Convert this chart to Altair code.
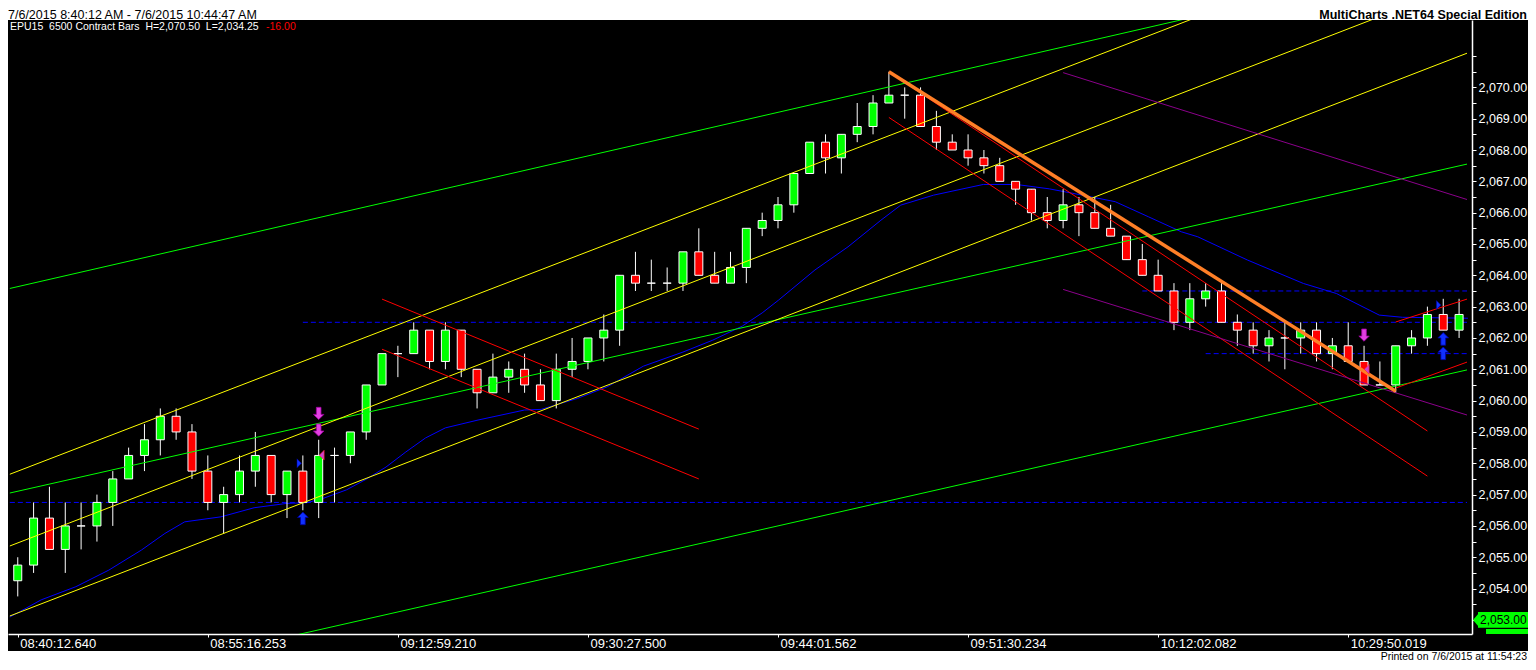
import altair as alt
import pandas as pd

# ---------------- data ----------------
opens = [2054.25, 2054.75, 2056.25, 2055.25, 2056.0, 2056.0, 2056.75, 2057.5, 2058.25, 2058.75,
         2059.5, 2059.0, 2057.75, 2056.75, 2057.0, 2057.75, 2058.25, 2057.0, 2057.75, 2056.75,
         2058.25, 2058.25, 2059.0, 2060.5, 2061.5, 2061.5, 2062.25, 2061.25, 2062.25, 2061.0,
         2060.25, 2060.75, 2061.0, 2060.5, 2060.0, 2061.0, 2061.25, 2062.0, 2062.25, 2064.0,
         2063.75, 2063.75, 2063.75, 2064.75, 2064.0, 2063.75, 2064.25, 2065.5, 2065.75, 2066.25,
         2067.25, 2068.25, 2067.75, 2068.5, 2068.75, 2069.5, 2069.75, 2069.75, 2068.75, 2068.25,
         2068.0, 2067.75, 2067.5, 2067.0, 2066.75, 2066.0, 2065.75, 2066.25, 2066.0, 2065.5,
         2065.25, 2064.5, 2064.0, 2063.5, 2062.5, 2063.25, 2063.5, 2062.5, 2062.25, 2061.75,
         2062.0, 2062.0, 2062.25, 2061.5, 2061.75, 2061.25, 2060.5, 2060.5, 2061.75, 2062.0,
         2062.75, 2062.25]
highs = [2055.0, 2056.75, 2057.25, 2056.75, 2056.75, 2057.0, 2057.75, 2058.5, 2059.25, 2059.75,
         2059.75, 2059.25, 2058.25, 2057.25, 2058.25, 2059.0, 2058.25, 2057.75, 2058.25, 2058.75,
         2058.5, 2059.0, 2060.5, 2061.5, 2061.75, 2062.5, 2062.25, 2062.5, 2062.25, 2061.0,
         2061.5, 2061.25, 2061.5, 2061.0, 2061.5, 2062.0, 2062.0, 2062.75, 2064.0, 2064.75,
         2064.5, 2064.25, 2064.75, 2065.5, 2064.75, 2064.75, 2065.5, 2066.0, 2066.5, 2067.25,
         2068.25, 2068.5, 2068.5, 2069.5, 2069.75, 2070.5, 2070.0, 2070.0, 2069.25, 2068.5,
         2068.5, 2068.0, 2067.75, 2067.0, 2066.75, 2066.5, 2066.75, 2066.5, 2066.5, 2066.25,
         2065.25, 2065.0, 2064.5, 2063.75, 2063.75, 2063.75, 2063.75, 2062.75, 2062.5, 2062.25,
         2062.5, 2062.5, 2062.5, 2062.0, 2062.5, 2061.75, 2061.25, 2061.75, 2062.25, 2063.0,
         2063.25, 2063.25]
lows = [2053.75, 2054.5, 2055.25, 2054.5, 2055.25, 2055.5, 2056.0, 2057.5, 2057.75, 2058.25,
        2058.75, 2057.5, 2056.5, 2055.75, 2056.75, 2057.25, 2056.75, 2056.25, 2056.5, 2056.25,
        2056.75, 2058.0, 2058.75, 2060.5, 2060.75, 2061.5, 2061.0, 2061.0, 2060.75, 2059.75,
        2060.25, 2060.25, 2060.25, 2060.0, 2059.75, 2060.75, 2061.0, 2061.25, 2061.75, 2063.5,
        2063.5, 2063.5, 2063.5, 2064.0, 2063.75, 2063.75, 2063.75, 2065.25, 2065.5, 2066.0,
        2067.25, 2067.25, 2067.25, 2068.25, 2068.5, 2069.5, 2069.0, 2068.75, 2068.0, 2068.0,
        2067.5, 2067.25, 2067.0, 2066.25, 2065.75, 2065.5, 2065.5, 2065.25, 2065.5, 2065.25,
        2064.5, 2064.0, 2063.5, 2062.25, 2062.25, 2063.0, 2062.5, 2061.75, 2061.5, 2061.25,
        2061.0, 2061.5, 2061.25, 2061.0, 2061.25, 2060.5, 2060.5, 2060.25, 2061.5, 2061.75,
        2062.25, 2062.0]
closes = [2054.75, 2056.25, 2055.25, 2056.0, 2056.0, 2056.75, 2057.5, 2058.25, 2058.75, 2059.5,
          2059.0, 2057.75, 2056.75, 2057.0, 2057.75, 2058.25, 2057.0, 2057.75, 2056.75, 2058.25,
          2058.25, 2059.0, 2060.5, 2061.5, 2061.5, 2062.25, 2061.25, 2062.25, 2061.0, 2060.25,
          2060.75, 2061.0, 2060.5, 2060.0, 2061.0, 2061.25, 2062.0, 2062.25, 2064.0, 2063.75,
          2063.75, 2063.75, 2064.75, 2064.0, 2063.75, 2064.25, 2065.5, 2065.75, 2066.25, 2067.25,
          2068.25, 2067.75, 2068.5, 2068.75, 2069.5, 2069.75, 2069.75, 2068.75, 2068.25, 2068.0,
          2067.75, 2067.5, 2067.0, 2066.75, 2066.0, 2065.75, 2066.25, 2066.0, 2065.5, 2065.25,
          2064.5, 2064.0, 2063.5, 2062.5, 2063.25, 2063.5, 2062.5, 2062.25, 2061.75, 2062.0,
          2062.0, 2062.25, 2061.5, 2061.75, 2061.25, 2060.5, 2060.5, 2061.75, 2062.0, 2062.75,
          2062.25, 2062.75]

x_tick_bars = [0, 12, 24, 36, 48, 60, 72, 84]
x_tick_labels = ["08:40:12.640", "08:55:16.253", "09:12:59.210", "09:30:27.500",
                 "09:44:01.562", "09:51:30.234", "10:12:02.082", "10:29:50.019"]
y_ticks = [2053.0, 2053.5, 2054.0, 2054.5, 2055.0, 2055.5, 2056.0, 2056.5, 2057.0, 2057.5,
           2058.0, 2058.5, 2059.0, 2059.5, 2060.0, 2060.5, 2061.0, 2061.5, 2062.0, 2062.5,
           2063.0, 2063.5, 2064.0, 2064.5, 2065.0, 2065.5, 2066.0, 2066.5, 2067.0, 2067.5,
           2068.0, 2068.5, 2069.0, 2069.5, 2070.0, 2070.5, 2071.0]

# moving average (blue), read at points along the curve
ma_x = [-0.5, 1.48, 3.67, 5.75, 7.81, 9.29, 10.54, 12.83, 14.92, 17.0, 18.25, 19.29, 20.75, 22.0,
        23.25, 24.5, 25.75, 27.0, 29.06, 32.0, 33.04, 35.33, 37.21, 39.5, 42.0, 43.88, 45.75, 47.0,
        48.04, 50.33, 52.42, 54.5, 55.75, 57.83, 60.96, 63.04, 65.13, 67.21, 69.29, 71.38, 73.46,
        74.5, 77.63, 81.17, 83.25, 85.96, 87.42, 91.56]
ma_y = [2053.09, 2053.64, 2054.06, 2054.59, 2055.23, 2055.76, 2056.13, 2056.29, 2056.58, 2056.72,
        2056.74, 2056.88, 2057.15, 2057.49, 2057.88, 2058.36, 2058.81, 2059.13, 2059.38, 2059.70,
        2059.72, 2060.07, 2060.44, 2061.10, 2061.55, 2061.93, 2062.38, 2062.80, 2063.21, 2064.17,
        2064.91, 2065.76, 2066.24, 2066.56, 2066.90, 2066.90, 2066.76, 2066.56, 2066.35, 2065.87,
        2065.39, 2065.23, 2064.49, 2063.74, 2063.42, 2062.73, 2062.66, 2062.63]

# trend lines: start/end (bar index, price)
tl_x1 = [-0.5, -0.5, -0.5, -0.5, -0.5, -0.5, 23, 23, 55, 55, 87, 87, 66, 66]
tl_p1 = [2063.58, 2057.05, 2050.45, 2057.65, 2055.36, 2053.125, 2063.24, 2061.64,
         2070.49, 2069.04, 2062.51, 2060.40, 2070.47, 2063.55]
tl_x2 = [73.94, 91.5, 91.5, 74.29, 85.75, 91.5, 43, 43, 89, 89, 91.5, 91.5, 91.5, 91.5]
tl_p2 = [2072.21, 2067.55, 2060.98, 2072.21, 2072.21, 2071.09, 2059.09, 2057.50,
         2059.03, 2057.59, 2063.24, 2061.23, 2066.42, 2059.54]
tl_col = ["#00ff00", "#00ff00", "#00ff00", "#ffff00", "#ffff00", "#ffff00",
          "#ff0000", "#ff0000", "#ff0000", "#ff0000", "#ff0000", "#ff0000",
          "#8b008b", "#8b008b"]

orange_x = [55, 87]
orange_p = [2070.5, 2060.3]

dash_p = [2056.75, 2062.5, 2063.5, 2061.5]
dash_x1 = [-0.5, 18, 71, 75]
dash_x2 = [91.5, 91.5, 91.5, 91.5]

down_x = [19, 19, 85]
down_p = [2059.59, 2059.06, 2062.09]
up_x = [18, 90, 90]
up_p = [2056.24, 2061.97, 2061.51]
rtri_x = [17.77, 89.71]
rtri_p = [2058.0, 2063.05]
ltri_x = [19.19, 85.17]
ltri_p = [2058.26, 2061.0]

marker_price = 2053.0

# ---------------- tables ----------------
n = len(opens)
bars = pd.DataFrame({"i": list(range(n)), "o": opens, "h": highs, "l": lows, "c": closes})
bars["dir"] = ["up" if c > o else ("down" if c < o else "flat") for o, c in zip(opens, closes)]

ma = pd.DataFrame({"x": ma_x, "p": ma_y})
rows = []
for k in range(len(tl_x1)):
    rows.append({"id": k, "x": tl_x1[k], "p": tl_p1[k], "col": tl_col[k]})
    rows.append({"id": k, "x": tl_x2[k], "p": tl_p2[k], "col": tl_col[k]})
tl = pd.DataFrame(rows)
orange = pd.DataFrame({"x": orange_x, "p": orange_p})
dash = pd.DataFrame({"x1": dash_x1, "x2": dash_x2, "p": dash_p})
downs = pd.DataFrame({"x": down_x, "p": down_p})
ups = pd.DataFrame({"x": up_x, "p": up_p})
rtri = pd.DataFrame({"x": rtri_x, "p": rtri_p})
ltri = pd.DataFrame({"x": ltri_x, "p": ltri_p})
one = pd.DataFrame({"k": [0]})
mk = pd.DataFrame({"p": [marker_price], "p1": [2053.25], "p2": [2052.75],
                   "q1": [2052.71], "q2": [2052.55]})

# ---------------- scales & axes ----------------
XS = alt.Scale(domain=[-0.3, 91.5], nice=False, zero=False)
YS = alt.Scale(domain=[2052.55, 2072.15], nice=False, zero=False)

lab_js = "[" + ",".join("'%s'" % s for s in x_tick_labels) + "]"
pos_js = "[" + ",".join(str(v) for v in x_tick_bars) + "]"
XAX = alt.Axis(values=x_tick_bars, labelExpr=lab_js + "[indexof(" + pos_js + ", datum.value)]",
               labelAlign="left", labelOffset=2, labelFlush=False, labelOverlap=False,
               labelColor="white", labelFont="Liberation Sans", labelFontSize=13,
               labelBaseline="top", labelPadding=0, tickColor="white", tickSize=3,
               domainColor="white", domainWidth=1.5, grid=False, title=None)
YAX = alt.Axis(orient="right", values=y_ticks,
               labelExpr="(datum.value % 1 == 0 && datum.value <= 2070 && datum.value >= 2054) ? format(datum.value, ',.2f') : ''",
               labelColor="white", labelFont="Liberation Sans", labelFontSize=12.5,
               labelBaseline="middle", labelAlign="left", labelPadding=2, labelOverlap=False,
               labelFlush=False, tickColor="white", tickSize=4, domainColor="white",
               domainWidth=1.5, grid=False, title=None)


def X(f):
    return alt.X(f, type="quantitative", scale=XS, axis=XAX)


def Y(f):
    return alt.Y(f, type="quantitative", scale=YS, axis=YAX)


# ---------------- layers ----------------
ma_line = alt.Chart(ma).mark_line(color="#0000ff", strokeWidth=1, clip=True).encode(x=X("x"), y=Y("p"))

dashed = alt.Chart(dash).mark_rule(color="#0000ff", strokeWidth=1, strokeDash=[5, 3], clip=True).encode(
    x=X("x1"), x2=alt.X2("x2"), y=Y("p"))

wicks = alt.Chart(bars).mark_rule(color="white", strokeWidth=1).encode(
    x=X("i"), y=Y("l"), y2=alt.Y2("h"))

bodies = alt.Chart(bars).mark_bar(size=8, stroke="white", strokeWidth=1, opacity=1).encode(
    x=X("i"), y=Y("o"), y2=alt.Y2("c"),
    color=alt.Color("dir:N", scale=alt.Scale(domain=["up", "down", "flat"],
                                             range=["#00ff00", "#ff0000", "#ffffff"]), legend=None))

trend = alt.Chart(tl).mark_line(strokeWidth=1, clip=True).encode(
    x=X("x"), y=Y("p"), color=alt.Color("col:N", scale=None), detail="id:N")

orange_line = alt.Chart(orange).mark_line(color="#ff7f27", strokeWidth=3.5, clip=True).encode(
    x=X("x"), y=Y("p"))

UP = "M 0 -1 L 0.85 -0.15 L 0.38 -0.15 L 0.38 1 L -0.38 1 L -0.38 -0.15 L -0.85 -0.15 Z"
DOWN = "M 0 1 L 0.85 0.15 L 0.38 0.15 L 0.38 -1 L -0.38 -1 L -0.38 0.15 L -0.85 0.15 Z"
RT = "M -0.5 -1 L 0.5 0 L -0.5 1 Z"
LT = "M 0.5 -1 L -0.5 0 L 0.5 1 Z"

down_pts = alt.Chart(downs).mark_point(shape=DOWN, filled=True, size=150, fill="#e23fe2",
                                       stroke="#a000a0", strokeWidth=0.8, opacity=1).encode(
    x=X("x"), y=Y("p"))
up_pts = alt.Chart(ups).mark_point(shape=UP, filled=True, size=160, fill="#1030ff",
                                   stroke="#0000a0", strokeWidth=0.8, opacity=1).encode(
    x=X("x"), y=Y("p"))
rt_pts = alt.Chart(rtri).mark_point(shape=RT, filled=True, size=80, fill="#1030ff",
                                    stroke="#0000a0", strokeWidth=0.5, opacity=1).encode(
    x=X("x"), y=Y("p"))
lt_pts = alt.Chart(ltri).mark_point(shape=LT, filled=True, size=95, fill="#d040d0",
                                    stroke="#ff2020", strokeWidth=0.6, opacity=1).encode(
    x=X("x"), y=Y("p"))

# frame decorations (plot area starts 12px below the top of the drawing)
top_band = alt.Chart(one).mark_rect(color="white").encode(
    x=alt.value(0), x2=alt.value(1520), y=alt.value(-12), y2=alt.value(0))
bot_band = alt.Chart(one).mark_rect(color="white").encode(
    x=alt.value(0), x2=alt.value(1520), y=alt.value(631), y2=alt.value(642))
head_left = alt.Chart(one).mark_text(text="7/6/2015 8:40:12 AM - 7/6/2015 10:44:47 AM", align="left",
                                     baseline="alphabetic", font="Liberation Sans", fontSize=12.5,
                                     color="black").encode(x=alt.value(0), y=alt.value(-0.8))
head_right = alt.Chart(one).mark_text(text="MultiCharts .NET64 Special Edition", align="right",
                                      baseline="alphabetic", font="Liberation Sans", fontSize=12.5,
                                      fontWeight="bold", color="black").encode(
    x=alt.value(1519), y=alt.value(-0.8))
printed = alt.Chart(one).mark_text(text="Printed on 7/6/2015 at 11:54:23", align="right",
                                   baseline="alphabetic", font="Liberation Sans", fontSize=10.5,
                                   color="black").encode(x=alt.value(1519), y=alt.value(639.8))
legend_txt = alt.Chart(one).mark_text(
    text="EPU15\u00a0 6500 Contract Bars\u00a0 H=2,070.50\u00a0 L=2,034.25", align="left",
    baseline="middle", font="Liberation Sans", fontSize=10.5, color="white").encode(
    x=alt.value(2), y=alt.value(7))
legend_chg = alt.Chart(one).mark_text(text="-16.00", align="left", baseline="middle",
                                      font="Liberation Sans", fontSize=10.5, color="#ff0000").encode(
    x=alt.value(258), y=alt.value(7))

mk_box = alt.Chart(mk).mark_rect(color="#00ff00").encode(
    x=alt.value(1470), x2=alt.value(1520), y=Y("p1"), y2=alt.Y2("p2"))
mk_box2 = alt.Chart(mk).mark_rect(color="#00ff00").encode(
    x=alt.value(1478), x2=alt.value(1520), y=Y("q1"), y2=alt.Y2("q2"))
mk_tip = alt.Chart(mk).mark_point(shape="M -0.4 0 L 0.45 -1 L 0.45 1 Z", filled=True, size=225,
                                  fill="#00ff00", opacity=1, strokeWidth=0).encode(
    x=alt.value(1468), y=Y("p"))
mk_txt = alt.Chart(mk).mark_text(text="2,053.00", align="left", baseline="middle",
                                 font="Liberation Sans", fontSize=12, color="black").encode(
    x=alt.value(1472), y=Y("p"))

chart = alt.layer(
    ma_line, dashed, wicks, bodies, trend, orange_line,
    down_pts, up_pts, rt_pts, lt_pts,
    top_band, bot_band, head_left, head_right, printed, legend_txt, legend_chg,
    mk_box2, mk_box, mk_tip, mk_txt
).properties(
    width=1464, height=614,
    autosize=alt.AutoSizeParams(type="none"),
    padding={"left": 0, "top": 12, "right": 56, "bottom": 28},
    background="black",
).configure_view(stroke=None)

chart.save("out.html", embed_options={"renderer": "svg", "actions": False})
